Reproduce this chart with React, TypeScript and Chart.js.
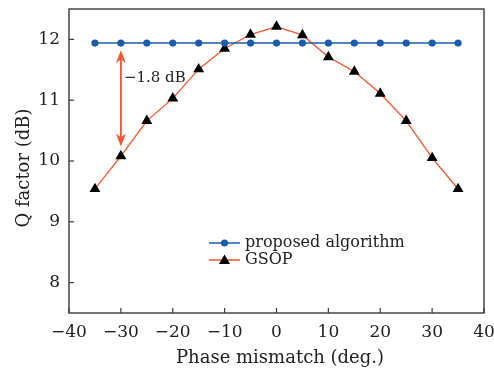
import React, { useEffect, useRef } from "react";
import { Chart, registerables } from "chart.js";

Chart.register(...registerables);

const phaseMismatch = [-35, -30, -25, -20, -15, -10, -5, 0, 5, 10, 15, 20, 25, 30, 35];
const proposedQ = [11.94, 11.94, 11.94, 11.94, 11.94, 11.94, 11.94, 11.94, 11.94, 11.94, 11.94, 11.94, 11.94, 11.94, 11.94];
const gsopQ = [9.54, 10.08, 10.66, 11.03, 11.51, 11.85, 12.08, 12.21, 12.07, 11.71, 11.47, 11.11, 10.66, 10.05, 9.54];
const xTicks = [-40, -30, -20, -10, 0, 10, 20, 30, 40];
const yTicks = [8, 9, 10, 11, 12];
const seriesNames = ["proposed algorithm", "GSOP"];
const xTitle = "Phase mismatch (deg.)";
const yTitle = "Q factor (dB)";
const annotationText = "\u22121.8 dB";
const arrowX = -30;
const arrowTop = 11.82;
const arrowBottom = 10.24;

const BLUE = "#1c5cae";
const RED = "#f2552f";
const FONT = "'DejaVu Serif', serif";

export default function App() {
  const ref = useRef<HTMLCanvasElement>(null);
  useEffect(() => {
    const canvas = ref.current!;
    const overlay = {
      id: "overlay",
      afterDraw(chart: any) {
        const ctx = chart.ctx;
        const xs = chart.scales.x;
        const ys = chart.scales.y;
        const a = chart.chartArea;
        ctx.save();
        // frame
        ctx.strokeStyle = "#3a3a3a";
        ctx.lineWidth = 1.4;
        ctx.strokeRect(a.left, a.top, a.right - a.left, a.bottom - a.top);
        // ticks
        ctx.lineWidth = 1.2;
        ctx.fillStyle = "#222";
        ctx.font = `17px ${FONT}`;
        ctx.textAlign = "center";
        ctx.textBaseline = "middle";
        xTicks.forEach((t) => {
          const px = xs.getPixelForValue(t);
          ctx.beginPath();
          ctx.moveTo(px, a.bottom);
          ctx.lineTo(px, a.bottom - 5);
          ctx.stroke();
          ctx.fillText(t < 0 ? "\u2212" + Math.abs(t) : String(t), px, a.bottom + 20);
        });
        ctx.textAlign = "right";
        yTicks.forEach((t) => {
          const py = ys.getPixelForValue(t);
          ctx.beginPath();
          ctx.moveTo(a.left, py);
          ctx.lineTo(a.left + 5, py);
          ctx.stroke();
          ctx.fillText(String(t), a.left - 9, py);
        });
        // titles
        ctx.font = `18px ${FONT}`;
        ctx.textAlign = "center";
        ctx.fillText(xTitle, 280, 358);
        ctx.save();
        ctx.translate(24, 168);
        ctx.rotate(-Math.PI / 2);
        ctx.fillText(yTitle, 0, 0);
        ctx.restore();
        // arrow
        const ax = xs.getPixelForValue(arrowX);
        const y1 = ys.getPixelForValue(arrowTop);
        const y2 = ys.getPixelForValue(arrowBottom);
        ctx.strokeStyle = RED;
        ctx.fillStyle = RED;
        ctx.lineWidth = 1.8;
        ctx.beginPath();
        ctx.moveTo(ax, y1 + 8);
        ctx.lineTo(ax, y2 - 8);
        ctx.stroke();
        const head = (tipY: number, dir: number) => {
          ctx.beginPath();
          ctx.moveTo(ax, tipY);
          ctx.lineTo(ax - 5, tipY + dir * 13);
          ctx.lineTo(ax, tipY + dir * 9);
          ctx.lineTo(ax + 5, tipY + dir * 13);
          ctx.closePath();
          ctx.fill();
        };
        head(y1, 1);
        head(y2, -1);
        // annotation text
        ctx.fillStyle = "#222";
        ctx.font = `15px ${FONT}`;
        ctx.textAlign = "left";
        ctx.fillText(annotationText, ax + 3, ys.getPixelForValue(11.36));
        // legend
        const lx0 = 209;
        const lx1 = 240;
        const ly = [243, 260];
        ctx.font = `16px ${FONT}`;
        ctx.lineWidth = 1.5;
        [BLUE, RED].forEach((c, i) => {
          ctx.strokeStyle = c;
          ctx.beginPath();
          ctx.moveTo(lx0, ly[i]);
          ctx.lineTo(lx1, ly[i]);
          ctx.stroke();
          const mx = (lx0 + lx1) / 2;
          ctx.fillStyle = i === 0 ? BLUE : "#000";
          ctx.beginPath();
          if (i === 0) {
            ctx.arc(mx, ly[i], 3.6, 0, Math.PI * 2);
          } else {
            ctx.moveTo(mx, ly[i] - 5.5);
            ctx.lineTo(mx + 5.5, ly[i] + 4);
            ctx.lineTo(mx - 5.5, ly[i] + 4);
            ctx.closePath();
          }
          ctx.fill();
          ctx.fillStyle = "#222";
          ctx.fillText(seriesNames[i], 245, ly[i]);
        });
        ctx.restore();
      },
    };
    const chart = new Chart(canvas, {
      type: "line",
      data: {
        datasets: [
          {
            label: seriesNames[0],
            data: phaseMismatch.map((x, i) => ({ x, y: proposedQ[i] })),
            borderColor: BLUE,
            backgroundColor: BLUE,
            borderWidth: 1.5,
            pointRadius: 3.6,
            pointStyle: "circle",
            pointBorderWidth: 0,
          },
          {
            label: seriesNames[1],
            data: phaseMismatch.map((x, i) => ({ x, y: gsopQ[i] })),
            borderColor: RED,
            backgroundColor: "#000",
            borderWidth: 1.3,
            pointRadius: 6.3,
            pointStyle: "triangle",
            pointBorderWidth: 0,
          },
        ],
      },
      options: {
        animation: false,
        responsive: false,
        events: [],
        layout: { padding: { top: 9, right: 10, left: 0, bottom: 0 } },
        plugins: { legend: { display: false }, tooltip: { enabled: false } },
        scales: {
          x: {
            type: "linear",
            min: -40,
            max: 40,
            grid: { display: false },
            border: { display: false },
            ticks: { display: false },
            afterFit: (s: any) => {
              s.height = 60;
            },
          },
          y: {
            min: 7.5,
            max: 12.5,
            grid: { display: false },
            border: { display: false },
            ticks: { display: false },
            afterFit: (s: any) => {
              s.width = 69;
            },
          },
        },
      },
      plugins: [overlay],
    });
    return () => chart.destroy();
  }, []);
  return (
    <div style={{ position: "fixed", left: 0, top: 0, width: 494, height: 373, background: "#fff" }}>
      <canvas ref={ref} width={494} height={373} style={{ width: 494, height: 373 }} />
    </div>
  );
}
